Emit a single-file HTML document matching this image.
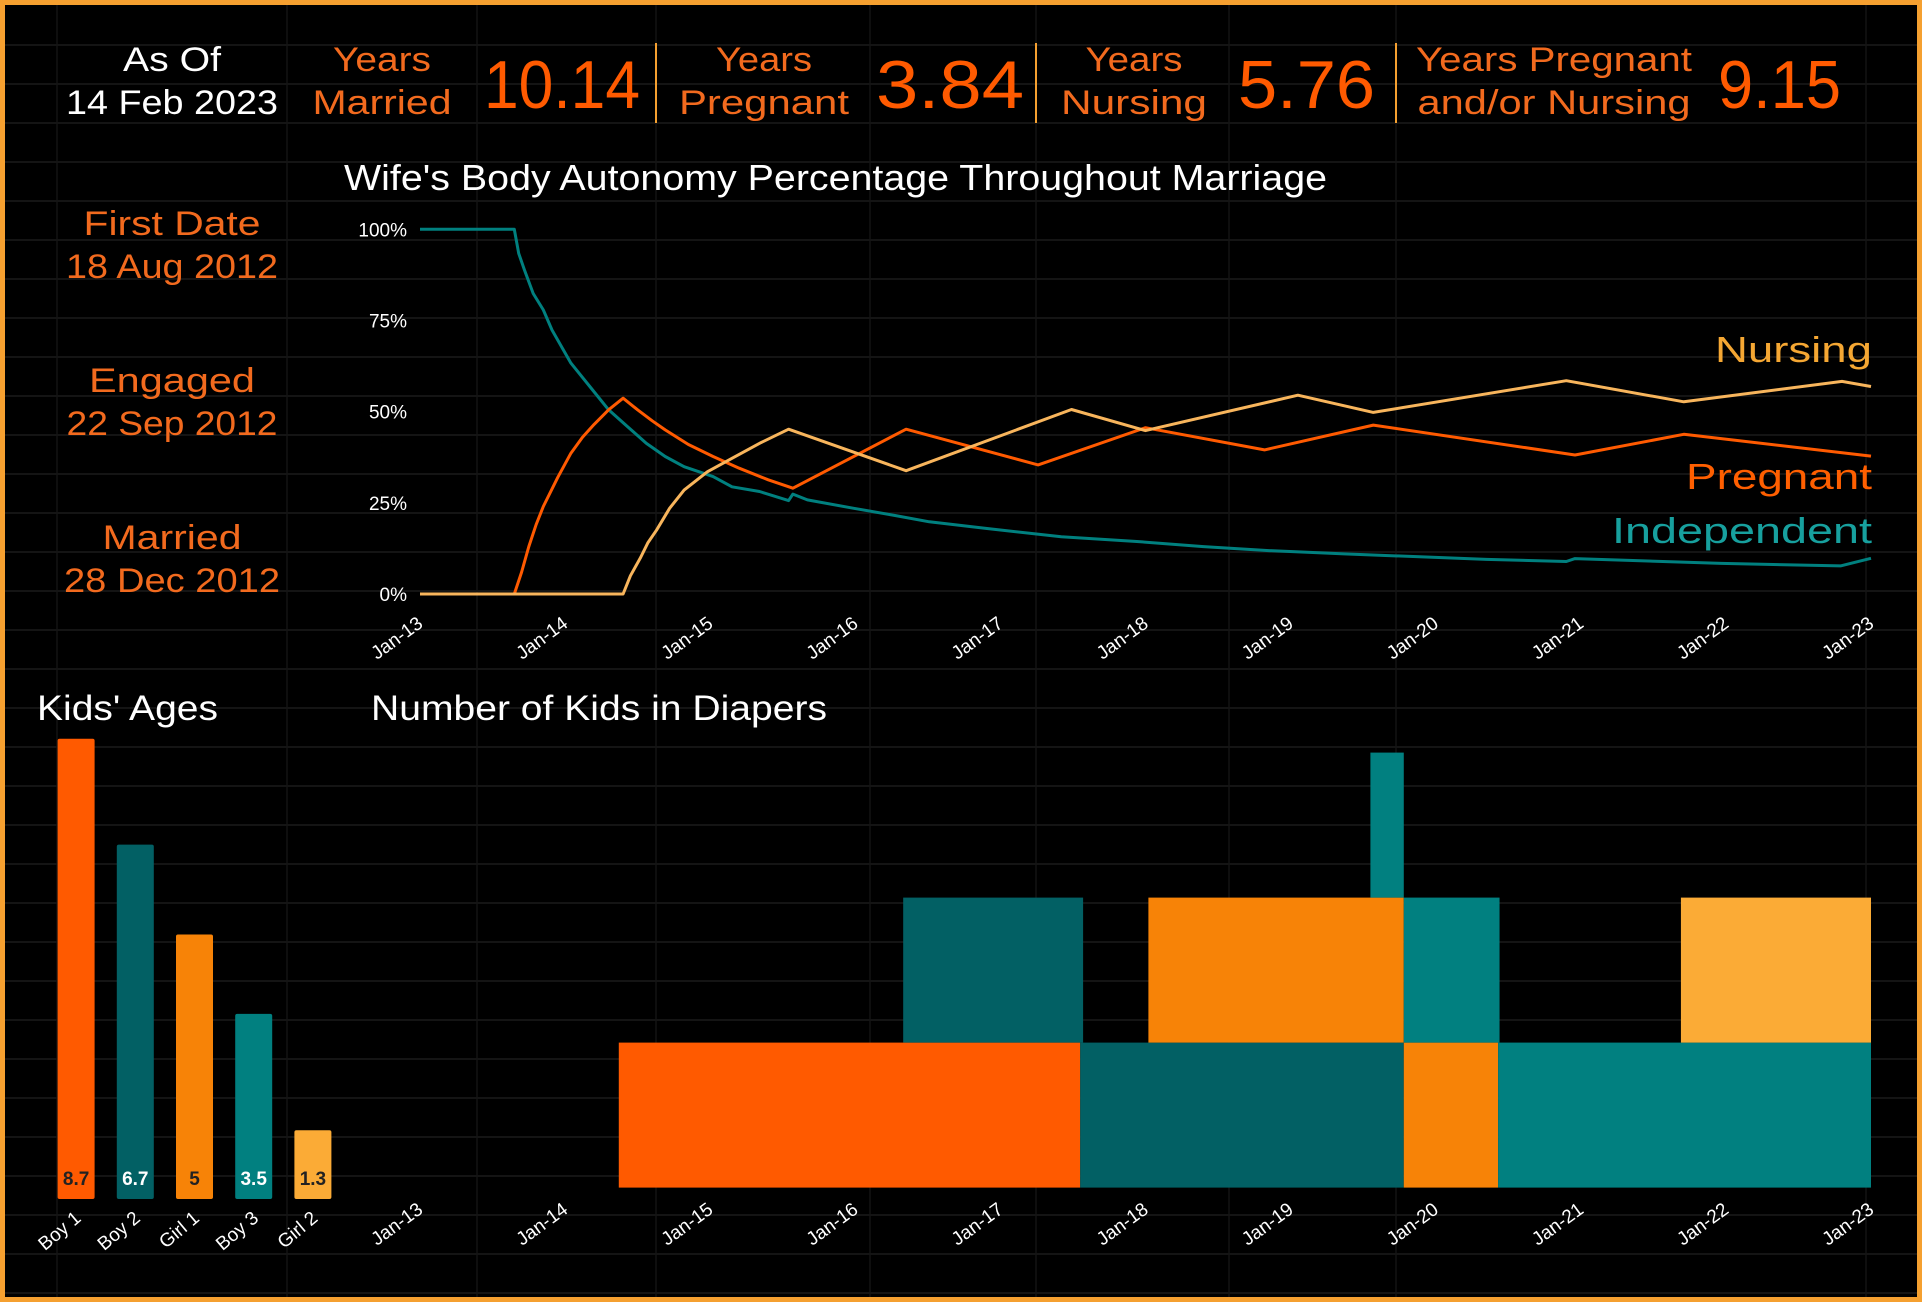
<!DOCTYPE html>
<html><head><meta charset="utf-8"><style>
html,body{margin:0;padding:0;background:#000;}
svg{display:block;font-family:"Liberation Sans",sans-serif;}
</style></head><body>
<svg id="root" width="1922" height="1302" viewBox="0 0 1922 1302">
<rect x="0" y="0" width="1922" height="1302" fill="#000"/>
<g id="grid"></g>
<rect x="2.5" y="2.5" width="1917" height="1297" fill="none" stroke="#f5a030" stroke-width="5"/>

<g font-size="34">
<text x="172" y="71" fill="#fff" text-anchor="middle" textLength="98" lengthAdjust="spacingAndGlyphs">As Of</text>
<text x="172" y="114" fill="#fff" text-anchor="middle" textLength="212" lengthAdjust="spacingAndGlyphs">14 Feb 2023</text>
<g fill="#f26a1e">
<text x="382" y="71" text-anchor="middle" textLength="98" lengthAdjust="spacingAndGlyphs">Years</text>
<text x="382" y="114" text-anchor="middle" textLength="139" lengthAdjust="spacingAndGlyphs">Married</text>
<text x="764" y="71" text-anchor="middle" textLength="96" lengthAdjust="spacingAndGlyphs">Years</text>
<text x="764" y="114" text-anchor="middle" textLength="170" lengthAdjust="spacingAndGlyphs">Pregnant</text>
<text x="1134" y="71" text-anchor="middle" textLength="97" lengthAdjust="spacingAndGlyphs">Years</text>
<text x="1134" y="114" text-anchor="middle" textLength="146" lengthAdjust="spacingAndGlyphs">Nursing</text>
<text x="1554" y="71" text-anchor="middle" textLength="276" lengthAdjust="spacingAndGlyphs">Years Pregnant</text>
<text x="1554" y="114" text-anchor="middle" textLength="273" lengthAdjust="spacingAndGlyphs">and/or Nursing</text>
</g>
<g fill="#ff5a00" font-size="68">
<text x="484" y="108" textLength="156" lengthAdjust="spacingAndGlyphs">10.14</text>
<text x="876" y="108" textLength="148" lengthAdjust="spacingAndGlyphs">3.84</text>
<text x="1238" y="108" textLength="137" lengthAdjust="spacingAndGlyphs">5.76</text>
<text x="1718" y="108" textLength="123" lengthAdjust="spacingAndGlyphs">9.15</text>
</g>
<g stroke="#f5a030" stroke-width="2">
<line x1="656" y1="43" x2="656" y2="123"/>
<line x1="1036" y1="43" x2="1036" y2="123"/>
<line x1="1396" y1="43" x2="1396" y2="123"/>
</g>
</g>

<g font-size="34" fill="#f26a1e" text-anchor="middle">
<text x="172" y="235" textLength="177" lengthAdjust="spacingAndGlyphs">First Date</text>
<text x="172" y="278" textLength="212" lengthAdjust="spacingAndGlyphs">18 Aug 2012</text>
<text x="172" y="392" textLength="166" lengthAdjust="spacingAndGlyphs">Engaged</text>
<text x="172" y="435" textLength="211" lengthAdjust="spacingAndGlyphs">22 Sep 2012</text>
<text x="172" y="549" textLength="139" lengthAdjust="spacingAndGlyphs">Married</text>
<text x="172" y="592" textLength="216" lengthAdjust="spacingAndGlyphs">28 Dec 2012</text>
</g>

<text x="344" y="190" font-size="36" fill="#fff" textLength="983" lengthAdjust="spacingAndGlyphs">Wife's Body Autonomy Percentage Throughout Marriage</text>
<g id="linechart"></g>

<text x="37" y="720" font-size="35" fill="#fff" textLength="181" lengthAdjust="spacingAndGlyphs">Kids' Ages</text>
<g id="kidschart"></g>

<text x="371" y="720" font-size="35" fill="#fff" textLength="456" lengthAdjust="spacingAndGlyphs">Number of Kids in Diapers</text>
<g id="diaperchart"></g>
</svg>
<script>
// ---- Line chart data ----
const indepT = [2013.0, 2013.65, 2013.68, 2013.72, 2013.78, 2013.85, 2013.91, 2014.04, 2014.17, 2014.30, 2014.43, 2014.56, 2014.69, 2014.82, 2015.02, 2015.15, 2015.34, 2015.54, 2015.57, 2015.67, 2015.99, 2016.25, 2016.51, 2016.90, 2017.42, 2017.94, 2018.40, 2018.85, 2019.37, 2019.89, 2020.35, 2020.90, 2020.96, 2021.97, 2022.79, 2023.0];
const indepV = [100, 100, 93.4, 88.8, 82.4, 77.9, 72.4, 63.3, 56.9, 50.5, 45.9, 41.3, 37.7, 34.9, 32.2, 29.4, 28.1, 25.6, 27.4, 25.8, 23.5, 21.7, 19.8, 18.0, 15.7, 14.4, 13.0, 11.9, 11.0, 10.2, 9.5, 8.9, 9.7, 8.4, 7.7, 9.8];
const pregT = [2013.0, 2013.65, 2013.70, 2013.75, 2013.80, 2013.85, 2013.95, 2014.04, 2014.12, 2014.2, 2014.3, 2014.40, 2014.50, 2014.6, 2014.69, 2014.85, 2015.02, 2015.2, 2015.4, 2015.57, 2016.35, 2017.26, 2018.0, 2018.82, 2019.57, 2020.96, 2021.71, 2023.0];
const pregV = [0, 0, 6, 13, 19, 24, 32, 38.6, 43, 46.5, 50.5, 53.7, 50.5, 47.5, 45, 41, 37.7, 34.5, 31.3, 29, 45.2, 35.4, 45.6, 39.5, 46.3, 38.1, 43.8, 37.8];
const nursT = [2013.0, 2014.40, 2014.45, 2014.52, 2014.57, 2014.63, 2014.72, 2014.82, 2014.98, 2015.15, 2015.35, 2015.54, 2016.35, 2017.49, 2018.0, 2019.05, 2019.57, 2020.90, 2021.71, 2022.80, 2023.0];
const nursV = [0, 0, 5, 10, 14, 17.5, 23.5, 28.5, 33.5, 37.2, 41.5, 45.2, 33.8, 50.6, 44.8, 54.5, 49.8, 58.5, 52.7, 58.3, 56.9];
const yTicks = [0, 25, 50, 75, 100];
const yTickLabels = ['0%', '25%', '50%', '75%', '100%'];
const xYears = [2013, 2014, 2015, 2016, 2017, 2018, 2019, 2020, 2021, 2022, 2023];
const xTickLabels = ['Jan-13','Jan-14','Jan-15','Jan-16','Jan-17','Jan-18','Jan-19','Jan-20','Jan-21','Jan-22','Jan-23'];
// ---- Kids ages ----
const kidNames = ['Boy 1', 'Boy 2', 'Girl 1', 'Boy 3', 'Girl 2'];
const kidAges = [8.7, 6.7, 5, 3.5, 1.3];
const kidAgeLabels = ['8.7', '6.7', '5', '3.5', '1.3'];
const kidColors = ['#ff5a00', '#026064', '#f78307', '#018080', '#fbab36'];
const kidTextColors = ['#222', '#fff', '#222', '#fff', '#222'];
// ---- Diapers segments ----
const segKid = [0, 1, 1, 2, 2, 3, 3, 3, 4];
const segStart = [2014.37, 2016.33, 2017.55, 2018.02, 2019.78, 2019.55, 2019.78, 2020.43, 2021.69];
const segEnd = [2017.55, 2017.57, 2019.78, 2019.78, 2020.43, 2019.78, 2020.44, 2023.0, 2023.0];
const segLevel = [0, 1, 0, 1, 0, 2, 1, 0, 1];

const NS = 'http://www.w3.org/2000/svg';
function mk(tag, attrs, parent) { const e = document.createElementNS(NS, tag); for (const k in attrs) e.setAttribute(k, attrs[k]); parent.appendChild(e); return e; }
const xS = t => 420 + (t - 2013) * 145.1;
const yS = v => 594 - v * 3.647;

// grid
const grid = document.getElementById('grid');
[57, 287, 477, 656, 870, 1036, 1229, 1396, 1866].forEach(x => {
  const l = mk('line', {x1: x, y1: 0, x2: x, y2: 1302, stroke: '#131313', 'stroke-width': 1.5}, grid);
  
  
});
for (let y = 45; y < 1302; y += 39) {
  const l = mk('line', {x1: 0, y1: y, x2: 1922, y2: y, stroke: '#141414', 'stroke-width': 2}, grid);
  
  
}

// line chart
const lc = document.getElementById('linechart');
yTicks.forEach((v, i) => {
  const t = mk('text', {x: 407, y: yS(v) + 7, 'text-anchor': 'end', 'font-size': 19, fill: '#fff'}, lc);
  t.textContent = yTickLabels[i];
  
  
});
function xLabels(parent, yy, nm) {
  xYears.forEach((yr, i) => {
    const x = xS(yr) + 4;
    const t = mk('text', {x: x, y: yy, 'text-anchor': 'end', 'font-size': 19, fill: '#fff', transform: `rotate(-36 ${x} ${yy})`}, parent);
    t.textContent = xTickLabels[i];
    
    
  });
}
xLabels(lc, 626, 'x-tick-label');
function path(T, V, color, nm, w) {
  const d = T.map((t, i) => (i ? 'L' : 'M') + xS(t).toFixed(1) + ',' + yS(V[i]).toFixed(1)).join(' ');
  const p = mk('path', {d: d, fill: 'none', stroke: color, 'stroke-width': w, 'stroke-linejoin': 'round'}, lc);
  
  
}
path(indepT, indepV, '#00807f', 'independent-line', 3);
path(pregT, pregV, '#ff5a00', 'pregnant-line', 3);
path(nursT, nursV, '#f8b55c', 'nursing-line', 3);
[['Nursing', 362, '#f5a733', 157, 'nursing-series-label'], ['Pregnant', 489, '#ff5f00', 186, 'pregnant-series-label'], ['Independent', 543, '#17a09e', 260, 'independent-series-label']].forEach(a => {
  const t = mk('text', {x: 1872, y: a[1], 'text-anchor': 'end', 'font-size': 36, fill: a[2], textLength: a[3], lengthAdjust: 'spacingAndGlyphs'}, lc);
  t.textContent = a[0];
  
  
});

// kids chart
const kc = document.getElementById('kidschart');
const kBase = 1199, kUnit = 52.9, kX0 = 57.6, kStep = 59.2, kW = 37;
kidAges.forEach((a, i) => {
  const x = kX0 + i * kStep, h = a * kUnit;
  const r = mk('rect', {x: x, y: kBase - h, width: kW, height: h, fill: kidColors[i], rx: 2}, kc);
  
  
  const t = mk('text', {x: x + kW / 2, y: kBase - 14, 'text-anchor': 'middle', 'font-size': 19, 'font-weight': 'bold', fill: kidTextColors[i]}, kc);
  t.textContent = kidAgeLabels[i];
  
  
  const cx = x + kW / 2 + 6, cy = 1220;
  const l = mk('text', {x: cx, y: cy, 'text-anchor': 'end', 'font-size': 19, fill: '#fff', transform: `rotate(-40 ${cx} ${cy})`}, kc);
  l.textContent = kidNames[i];
  
  
});

// diapers chart
const dc = document.getElementById('diaperchart');
const dBase = 1187.6, dUnit = 145;
segKid.forEach((k, i) => {
  const x1 = xS(segStart[i]), x2 = xS(segEnd[i]);
  const r = mk('rect', {x: x1, y: dBase - (segLevel[i] + 1) * dUnit, width: x2 - x1, height: dUnit, fill: kidColors[k]}, dc);
  
  
});
xLabels(dc, 1212, 'diaper-x-tick-label');
</script>
</body></html>
